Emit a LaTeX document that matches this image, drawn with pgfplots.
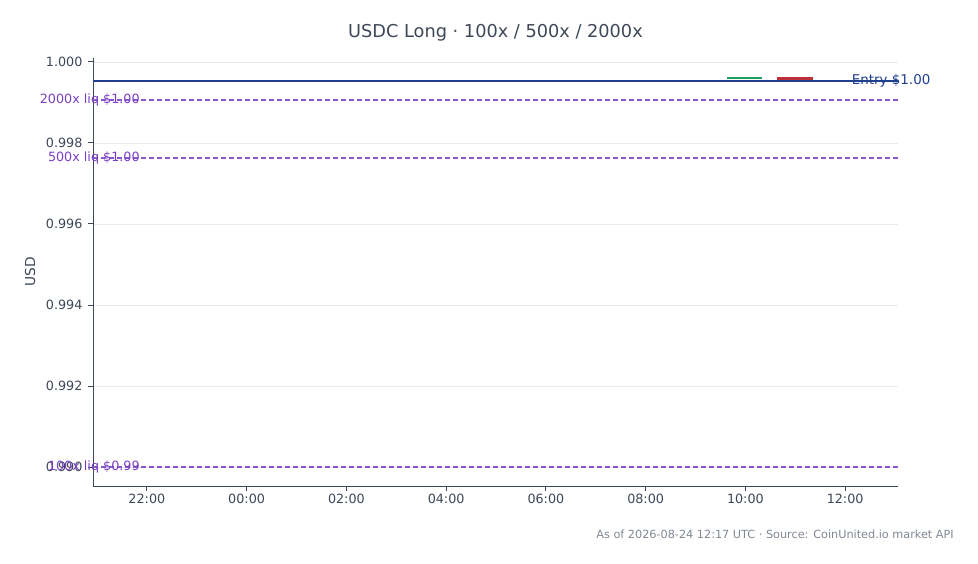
\documentclass[border=0pt]{standalone}
\usepackage{pgfplots}
\pgfplotsset{compat=1.18}
\usepackage{fontspec}
\setmainfont{DejaVu Sans}
\definecolor{axc}{HTML}{3B4656}
\definecolor{txt}{HTML}{3D4756}
\definecolor{gridc}{HTML}{E8EAEE}
\definecolor{entryc}{HTML}{213F8F}
\definecolor{liqc}{HTML}{8A58CC}
\definecolor{liqt}{HTML}{7A3FC4}
\definecolor{upc}{HTML}{1FA060}
\definecolor{dnc}{HTML}{C0303A}
\definecolor{footc}{HTML}{808892}
\begin{document}
\begin{tikzpicture}[x=1bp,y=1bp]
\path[use as bounding box] (0,0) rectangle (978,564);
\begin{axis}[
  at={(93bp,78bp)}, anchor=south west,
  scale only axis, width=805bp, height=428bp,
  xmin=20.92, xmax=37.06,
  ymin=0.989531, ymax=1.000095,
  axis x line*=bottom, axis y line*=left,
  axis line style={axc, line width=0.8pt},
  xtick={22,24,26,28,30,32,34,36},
  xticklabels={22:00,00:00,02:00,04:00,06:00,08:00,10:00,12:00},
  ytick={0.990,0.992,0.994,0.996,0.998,1.000},
  yticklabel style={xshift=-2bp,/pgf/number format/.cd,fixed,fixed zerofill,precision=3},
  /pgf/number format/assume math mode=true,
  scaled y ticks=false,
  tick style={axc, line width=0.8pt},
  tick align=outside, major tick length=5bp,
  ticklabel style={font=\fontsize{12.8}{14}\selectfont, text=txt},
  ymajorgrids, grid style={gridc, line width=0.6pt},
  clip=false,
]
% liquidation lines
\addplot[liqc, line width=1.3pt, dash pattern=on 5bp off 3bp] coordinates {(20.92,0.99906) (37.06,0.99906)};
\addplot[liqc, line width=1.3pt, dash pattern=on 5bp off 3bp] coordinates {(20.92,0.99763) (37.06,0.99763)};
\addplot[liqc, line width=1.3pt, dash pattern=on 5bp off 3bp] coordinates {(20.92,0.99000) (37.06,0.99000)};
% candles
\addplot[upc, line width=1.5pt] coordinates {(33.64,0.99960) (34.34,0.99960)};
\addplot[draw=none, fill=dnc] coordinates {(34.64,0.99962) (35.36,0.99962) (35.36,0.99951) (34.64,0.99951)} -- cycle;
% entry
\addplot[entryc, line width=1.8pt] coordinates {(20.92,0.99952) (37.06,0.99952)};
\node[anchor=west, text=entryc, font=\fontsize{13.5}{15}\selectfont, inner sep=0pt] at (axis cs:36.13,0.99952) {Entry \$1.00};
\node[anchor=east, text=liqt, font=\fontsize{12.8}{14}\selectfont, inner sep=0pt] at (axis cs:21.86,0.99906) {2000x liq \$1.00};
\node[anchor=east, text=liqt, font=\fontsize{12.8}{14}\selectfont, inner sep=0pt] at (axis cs:21.86,0.99763) {500x liq \$1.00};
\node[anchor=east, text=liqt, font=\fontsize{12.8}{14}\selectfont, inner sep=0pt] at (axis cs:21.86,0.99000) {100x liq \$0.99};
\end{axis}
\node[text=txt, font=\fontsize{17.8}{20}\selectfont] at (495.5,531) {USDC Long · 100x / 500x / 2000x};
\node[text=txt, font=\fontsize{13.8}{16}\selectfont, rotate=90] at (30,292) {USD};
\node[anchor=east, text=footc, font=\fontsize{11.3}{13}\selectfont, inner sep=0pt] at (954,30) {As of 2026-08-24 12:17 UTC · Source: CoinUnited.io market API};
\end{tikzpicture}
\end{document}
